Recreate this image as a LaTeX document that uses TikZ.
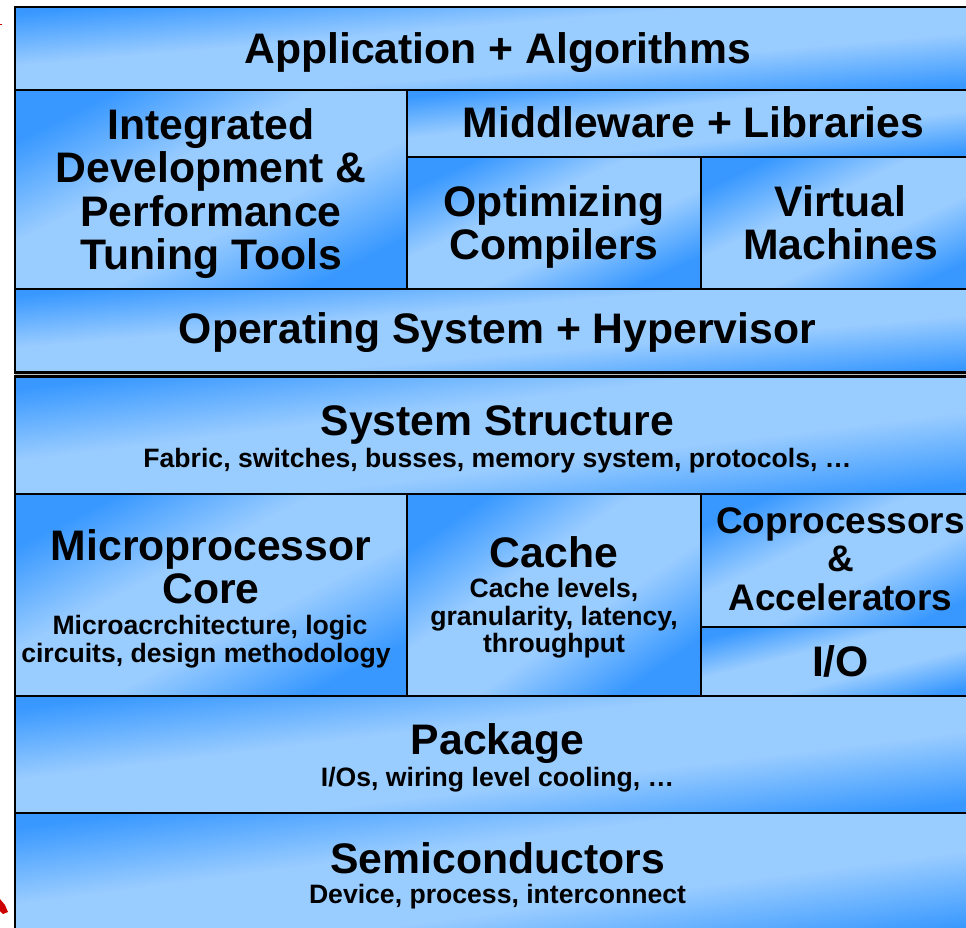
\documentclass[tikz,border=0pt]{standalone}
\usepackage{fontspec}
\setmainfont{Liberation Sans}
\usetikzlibrary{fit}
\definecolor{dk}{RGB}{56,152,255}
\definecolor{lt}{RGB}{153,204,255}
\definecolor{redmark}{RGB}{204,0,0}
\definecolor{gapgray}{RGB}{190,190,190}
\pgfdeclareverticalshading{boxshade}{100bp}{color(0bp)=(dk); color(25bp)=(dk); color(42bp)=(lt); color(58bp)=(lt); color(75bp)=(dk); color(100bp)=(dk)}
\tikzset{
  box/.style={draw=black, line width=2.5pt, shade, shading=boxshade, shading angle=#1, inner sep=0pt, outer sep=0pt},
  big/.style={font=\fontsize{42.7}{44}\selectfont\bfseries, anchor=base, inner sep=0pt},
  midt/.style={font=\fontsize{37}{38}\selectfont\bfseries, anchor=base, inner sep=0pt},
  small/.style={font=\fontsize{26.6}{28}\selectfont\bfseries, anchor=base, inner sep=0pt},
}
\begin{document}
\begin{tikzpicture}[x=1pt,y=-1pt]
\path[use as bounding box] (0,0) rectangle (966,927);
\fill[white] (0,0) rectangle (966,927);
\begin{scope}
\clip (0,0) rectangle (966,927);
\fill[gapgray] (15,372) rectangle (980,377);
% upper group
\node[box=4.9, fit={(15,7) (980,90)}] (app) {};
\node[box=26.9, fit={(15,90) (407,289)}] (ide) {};
\node[box=6.7, fit={(407,90) (980,157)}] (mid) {};
\node[box=24.2, fit={(407,157) (701,289)}] (opt) {};
\node[box=25.3, fit={(701,157) (980,289)}] (vm) {};
\node[box=4.9, fit={(15,289) (980,372.5)}] (os) {};
% lower group
\node[box=7, fit={(15,376.5) (980,494)}] (sys) {};
\node[box=27.3, fit={(15,494) (407,696)}] (core) {};
\node[box=34.5, fit={(407,494) (701,696)}] (cache) {};
\node[box=25.5, fit={(701,494) (980,627)}] (copro) {};
\node[box=13.9, fit={(701,627) (980,696)}] (io) {};
\node[box=6.9, fit={(15,696) (980,813)}] (pkg) {};
\node[box=7.5, fit={(15,813) (980,940)}] (semi) {};
\end{scope}
% texts
\node[big] (tapp) at (497.5,63) {Application + Algorithms};
\node[big] (tide1) at (211,139) {Integrated};
\node[big] (tide2) at (211,182.5) {Development \&};
\node[big] (tide3) at (211,226) {Performance};
\node[big] (tide4) at (211,269.5) {Tuning Tools};
\node[big] (tmid) at (693.5,137) {Middleware + Libraries};
\node[big] (topt1) at (554,216) {Optimizing};
\node[big] (topt2) at (554,259.5) {Compilers};
\node[big] (tvm1) at (840.5,216) {Virtual};
\node[big] (tvm2) at (840.5,259.5) {Machines};
\node[big] (tos) at (497.5,343) {Operating System + Hypervisor};
\node[big] (tsys) at (497.5,435) {System Structure};
\node[small] (tsys2) at (497.5,467) {Fabric, switches, busses, memory system, protocols, …};
\node[big] (tcore1) at (211,560) {Microprocessor};
\node[big] (tcore2) at (211,603.5) {Core};
\node[small] (tcore3) at (210,634) {Microacrchitecture, logic};
\node[small] (tcore4) at (206,662) {circuits, design methodology};
\node[big] (tcache) at (554,567) {Cache};
\node[small] (tcache2) at (554,597.5) {Cache levels,};
\node[small] (tcache3) at (554,625.5) {granularity, latency,};
\node[small] (tcache4) at (554,652.5) {throughput};
\node[midt] (tcop1) at (840.5,533) {Coprocessors};
\node[midt] (tcop2) at (840.5,571) {\&};
\node[midt] (tcop3) at (840.5,610) {Accelerators};
\node[big] (tio) at (840.5,676) {I/O};
\node[big] (tpkg) at (497.5,754.5) {Package};
\node[small] (tpkg2) at (497.5,786) {I/Os, wiring level cooling, …};
\node[big] (tsemi) at (497.5,873) {Semiconductors};
\node[small] (tsemi2) at (497.5,903.5) {Device, process, interconnect};
% red marks at left edge
\fill[redmark] (0,899) -- (5,905) -- (8,912) -- (3,914) -- (0,911) -- cycle;
\fill[redmark] (0,23.5) rectangle (1.5,25);
\end{tikzpicture}
\end{document}
